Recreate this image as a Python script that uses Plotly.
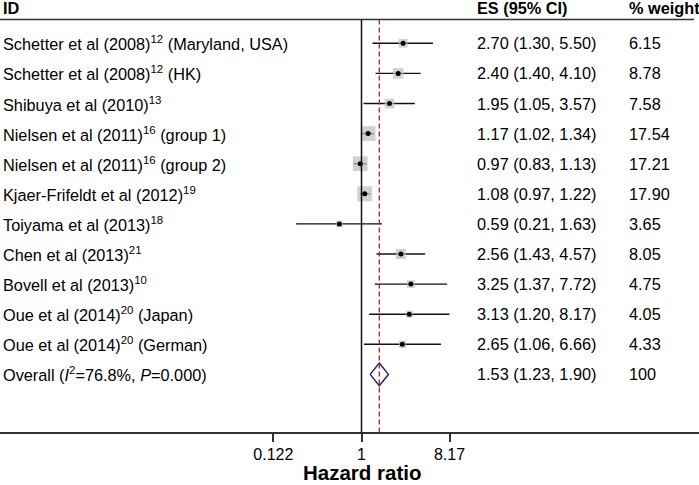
import plotly.graph_objects as go

# ---------------- data ----------------
study_labels = [
    "Schetter et al (2008)<sup>12</sup> (Maryland, USA)",
    "Schetter et al (2008)<sup>12</sup> (HK)",
    "Shibuya et al (2010)<sup>13</sup>",
    "Nielsen et al (2011)<sup>16</sup> (group 1)",
    "Nielsen et al (2011)<sup>16</sup> (group 2)",
    "Kjaer-Frifeldt et al (2012)<sup>19</sup>",
    "Toiyama et al (2013)<sup>18</sup>",
    "Chen et al (2013)<sup>21</sup>",
    "Bovell et al (2013)<sup>10</sup>",
    "Oue et al (2014)<sup>20</sup> (Japan)",
    "Oue et al (2014)<sup>20</sup> (German)",
]
es = [2.70, 2.40, 1.95, 1.17, 0.97, 1.08, 0.59, 2.56, 3.25, 3.13, 2.65]
lci = [1.30, 1.40, 1.05, 1.02, 0.83, 0.97, 0.21, 1.43, 1.37, 1.20, 1.06]
uci = [5.50, 4.10, 3.57, 1.34, 1.13, 1.22, 1.63, 4.57, 7.72, 8.17, 6.66]
weights = [6.15, 8.78, 7.58, 17.54, 17.21, 17.90, 3.65, 8.05, 4.75, 4.05, 4.33]

overall_label = "Overall (<i>I</i><sup>2</sup>=76.8%, <i>P</i>=0.000)"
overall_es, overall_lci, overall_uci = 1.53, 1.23, 1.90
overall_weight = "100"

axis_title = "Hazard ratio"
tick_vals = [0.122, 1, 8.17]
tick_text = ["0.122", "1", "8.17"]

# ---------------- geometry helpers ----------------
W, H = 699, 485
row_px0, row_step = 43.3, 30.1
def px_to_row(p):
    return 1 + (p - row_px0) / row_step

rows = list(range(1, len(es) + 1))
overall_row = len(es) + 1
y_top, y_bot = px_to_row(0), px_to_row(H)
header_row = px_to_row(8)
header_line_row = px_to_row(19.5)
axis_px = 432.7
axis_row = px_to_row(axis_px)

FONT = "Liberation Sans, Arial, sans-serif"
fig = go.Figure()

# CI lines
cx, cy = [], []
for r, lo, hi in zip(rows, lci, uci):
    cx += [lo, hi, None]
    cy += [r, r, None]
fig.add_trace(go.Scatter(x=cx, y=cy, mode="lines",
                         line=dict(color="#111111", width=1.4),
                         hoverinfo="skip", showlegend=False))

# weight squares
sizes = [15 * (w / max(weights)) ** 0.5 for w in weights]
fig.add_trace(go.Scatter(x=es, y=rows, mode="markers",
                         marker=dict(symbol="square", size=sizes, color="#bdbdbd",
                                     line=dict(width=0)),
                         showlegend=False))
# point estimates
fig.add_trace(go.Scatter(x=es, y=rows, mode="markers",
                         marker=dict(symbol="circle", size=5, color="#000000"),
                         showlegend=False))

# overall diamond
h = 0.38
fig.add_trace(go.Scatter(
    x=[overall_lci, overall_es, overall_uci, overall_es, overall_lci],
    y=[overall_row, overall_row - h, overall_row, overall_row + h, overall_row],
    mode="lines", fill="toself", fillcolor="white",
    line=dict(color="#26267a", width=1.5), showlegend=False))

# reference lines
fig.add_shape(type="line", xref="x", yref="y", x0=1, x1=1,
              y0=header_line_row, y1=axis_row, line=dict(color="#111111", width=1.5))
fig.add_shape(type="line", xref="x", yref="y", x0=overall_es, x1=overall_es,
              y0=header_line_row, y1=axis_row,
              line=dict(color="#a3262e", width=1.3, dash="5px,3px"))
# header rule
fig.add_shape(type="line", xref="paper", yref="y", x0=0, x1=694 / W,
              y0=header_line_row, y1=header_line_row,
              line=dict(color="#333333", width=1.3))

# text columns
ann = []
def txt(x_px, r, s, bold=False):
    ann.append(dict(xref="paper", yref="y", x=x_px / W, y=r, xanchor="left",
                    yanchor="middle", showarrow=False,
                    text=f"<b>{s}</b>" if bold else s,
                    font=dict(family=FONT, size=16.3, color="#000000")))

txt(1, header_row, "ID", True)
txt(475, header_row, "ES (95% CI)", True)
txt(627, header_row, "% weight", True)
for r, lab, e, lo, hi, w in zip(rows, study_labels, es, lci, uci, weights):
    txt(1, r, lab)
    txt(475, r, f"{e:.2f} ({lo:.2f}, {hi:.2f})")
    txt(627, r, f"{w:.2f}")
txt(1, overall_row, overall_label)
txt(475, overall_row, f"{overall_es:.2f} ({overall_lci:.2f}, {overall_uci:.2f})")
txt(627, overall_row, overall_weight)

# axis title (placed as annotation centred under x=1)
ann.append(dict(xref="x", yref="paper", x=0, y=0.5 / H,
                xanchor="center", yanchor="bottom", showarrow=False, borderpad=0,
                text=f"<b>{axis_title}</b>",
                font=dict(family=FONT, size=20.5, color="#000000")))

px_per_log10 = 41.9 * 2.302585
x_one_px = 361.5
x_range = [(0 - x_one_px) / px_per_log10, (W - x_one_px) / px_per_log10]

fig.update_layout(
    width=W, height=H, margin=dict(l=0, r=0, t=0, b=0, autoexpand=False),
    paper_bgcolor="white", plot_bgcolor="white",
    annotations=ann, showlegend=False,
    xaxis=dict(type="log", range=x_range, domain=[0, 1], anchor="free",
               position=1 - axis_px / H, showgrid=False, zeroline=False,
               automargin=False,
               showline=True, linecolor="#333333", linewidth=1.5,
               ticks="outside", ticklen=9, tickwidth=1.5, tickcolor="#333333",
               tickvals=tick_vals, ticktext=tick_text, ticklabelstandoff=-2,
               tickfont=dict(family=FONT, size=16, color="#000000")),
    yaxis=dict(range=[y_bot, y_top], domain=[0, 1], visible=False,
               automargin=False, showgrid=False, zeroline=False),
)

fig.write_html("out.html", config={"displayModeBar": False},
               post_script="document.body.style.margin='0';document.body.style.overflow='hidden';")
